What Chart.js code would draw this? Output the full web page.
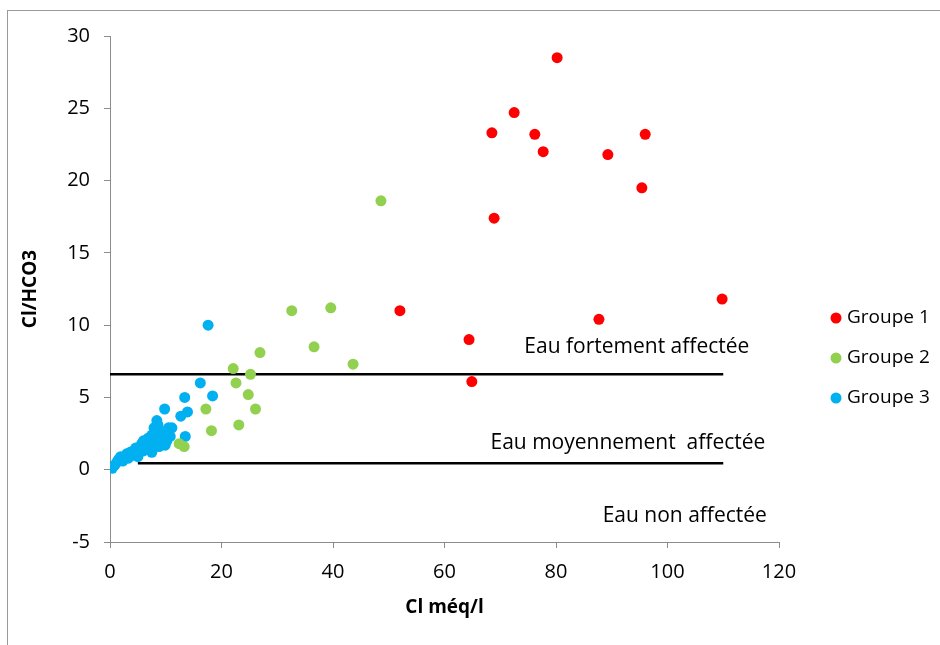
<!DOCTYPE html>
<html>
<head>
<meta charset="utf-8">
<script src="https://cdn.jsdelivr.net/npm/chart.js@4"></script>
<style>
  html, body { margin: 0; padding: 0; background: #fff; }
  #wrap { width: 940px; height: 645px; }
</style>
</head>
<body>
<div id="wrap"><canvas id="chart" width="940" height="645"></canvas></div>
<script>
// Cl (méq/l) and Cl/HCO3 per group
const groupe1X = [80.2, 72.5, 68.5, 76.2, 96.0, 77.7, 89.3, 95.4, 68.9, 52.0, 109.8, 87.7, 64.4, 64.9];
const groupe1Y = [28.5, 24.7, 23.3, 23.2, 23.2, 22.0, 21.8, 19.5, 17.4, 11.0, 11.8, 10.4, 9.0, 6.1];

const groupe2X = [48.6, 32.6, 39.6, 26.9, 36.6, 43.6, 22.1, 25.2, 22.6, 24.8, 17.2, 26.1, 18.2, 23.1, 12.4, 13.3];
const groupe2Y = [18.6, 11.0, 11.2, 8.1, 8.5, 7.3, 7.0, 6.6, 6.0, 5.2, 4.2, 4.2, 2.7, 3.1, 1.8, 1.6];

const groupe3X = [0.4, 0.8, 1.2, 1.5, 1.9, 2.3, 2.7, 3.0, 3.3, 3.6, 4.0, 4.2, 4.6, 5.0, 5.1, 5.4, 5.7, 6.0, 6.0, 6.4,
                  6.9, 7.2, 7.5, 7.5, 7.9, 8.0, 8.3, 8.4, 8.6, 8.8, 9.2, 9.5, 9.8, 9.9, 10.2, 10.5, 10.8, 11.1,
                  12.7, 13.4, 13.5, 13.9, 16.2, 17.6, 18.4];
const groupe3Y = [0.1, 0.3, 0.5, 0.7, 0.9, 0.6, 0.9, 1.1, 0.8, 1.2, 1.0, 1.3, 1.5, 0.9, 1.2, 1.6, 1.8, 1.3, 2.0, 1.5,
                  2.2, 1.7, 1.2, 2.4, 2.9, 2.0, 2.6, 3.4, 3.1, 1.6, 2.2, 2.6, 4.2, 1.7, 2.0, 2.9, 2.3, 2.9,
                  3.7, 5.0, 2.3, 4.0, 6.0, 10.0, 5.1];

// limit lines between water classes
const limitHautX = [0, 110];
const limitHautY = [6.6, 6.6];
const limitBasX = [5, 110];
const limitBasY = [0.45, 0.45];

const xTicks = [0, 20, 40, 60, 80, 100, 120];
const yTicks = [-5, 0, 5, 10, 15, 20, 25, 30];

const zoneLabels = ['Eau fortement affectée', 'Eau moyennement  affectée', 'Eau non affectée'];
const zoneX = [94.5, 92.9, 103.1];
const zoneY = [8.5, 1.85, -3.2];

function pts(xs, ys){
    return xs.map((x, i) => ({x: x, y: ys[i]}));
}

const FONT = "'Open Sans', 'DejaVu Sans', sans-serif";
const gray = '#8c8c8c';

const decor = {
    id: 'decor',
    beforeDraw(chart){
        const ctx = chart.ctx;
        ctx.save();
        ctx.strokeStyle = '#9a9a9a';
        ctx.lineWidth = 1;
        ctx.strokeRect(7.5, 10.5, 960, 660);
        ctx.restore();
    },
    afterDraw(chart){
        const ctx = chart.ctx;
        const xs = chart.scales.x, ys = chart.scales.y;
        ctx.save();
        ctx.fillStyle = '#000';
        ctx.font = '21px ' + FONT;
        ctx.textAlign = 'center';
        ctx.textBaseline = 'middle';
        zoneLabels.forEach((t, i) => {
            ctx.fillText(t, xs.getPixelForValue(zoneX[i]), ys.getPixelForValue(zoneY[i]));
        });
        // legend
        let y = 318;
        chart.data.datasets.forEach(ds => {
            if(!ds.label) return;
            ctx.fillStyle = ds.backgroundColor;
            ctx.beginPath();
            ctx.arc(836, y, 5.5, 0, Math.PI * 2);
            ctx.fill();
            ctx.fillStyle = '#000';
            ctx.textAlign = 'left';
            ctx.font = '19px ' + FONT;
            ctx.fillText(ds.label, 847, y);
            y += 40;
        });
        ctx.restore();
    }
};

function limitLine(xs, ys){
    return {
        type: 'line',
        data: pts(xs, ys),
        borderColor: '#000',
        borderWidth: 2.5,
        pointRadius: 0,
        pointHoverRadius: 0,
        showLine: true,
        order: 5
    };
}

function group(label, color, xs, ys){
    return {
        label: label,
        data: pts(xs, ys),
        backgroundColor: color,
        borderWidth: 0,
        pointRadius: 5.5,
        pointHoverRadius: 5.5,
        order: 1
    };
}

new Chart(document.getElementById('chart'), {
    type: 'scatter',
    data: {
        datasets: [
            limitLine(limitHautX, limitHautY),
            limitLine(limitBasX, limitBasY),
            group('Groupe 1', '#ff0000', groupe1X, groupe1Y),
            group('Groupe 2', '#92d050', groupe2X, groupe2Y),
            group('Groupe 3', '#00b0f0', groupe3X, groupe3Y)
        ]
    },
    options: {
        responsive: false,
        animation: false,
        layout: { padding: { left: 0, top: 36, right: 161, bottom: 0 } },
        plugins: {
            legend: { display: false },
            tooltip: { enabled: false }
        },
        scales: {
            x: {
                type: 'linear',
                min: 0, max: 120,
                afterBuildTicks(scale){ scale.ticks = xTicks.map(v => ({value: v})); },
                afterFit(scale){ scale.height = 103; },
                grid: { drawOnChartArea: false, drawTicks: true, tickLength: 6, color: gray },
                border: { display: true, color: gray, width: 1 },
                ticks: { color: '#000', font: { family: FONT, size: 20 }, padding: 12 },
                title: {
                    display: true, text: 'Cl méq/l', color: '#000',
                    font: { family: FONT, size: 19, weight: 'bold' },
                    padding: { bottom: 26 }
                }
            },
            y: {
                type: 'linear',
                min: -5, max: 30,
                afterBuildTicks(scale){ scale.ticks = yTicks.map(v => ({value: v})); },
                afterFit(scale){ scale.width = 110; },
                grid: { drawOnChartArea: false, drawTicks: true, tickLength: 6, color: gray },
                border: { display: true, color: gray, width: 1 },
                ticks: { color: '#000', font: { family: FONT, size: 20 }, padding: 14 },
                title: {
                    display: true, text: 'Cl/HCO3', color: '#000',
                    font: { family: FONT, size: 19, weight: 'bold' },
                    padding: { top: 19 }
                }
            }
        }
    },
    plugins: [decor]
});
</script>
</body>
</html>
